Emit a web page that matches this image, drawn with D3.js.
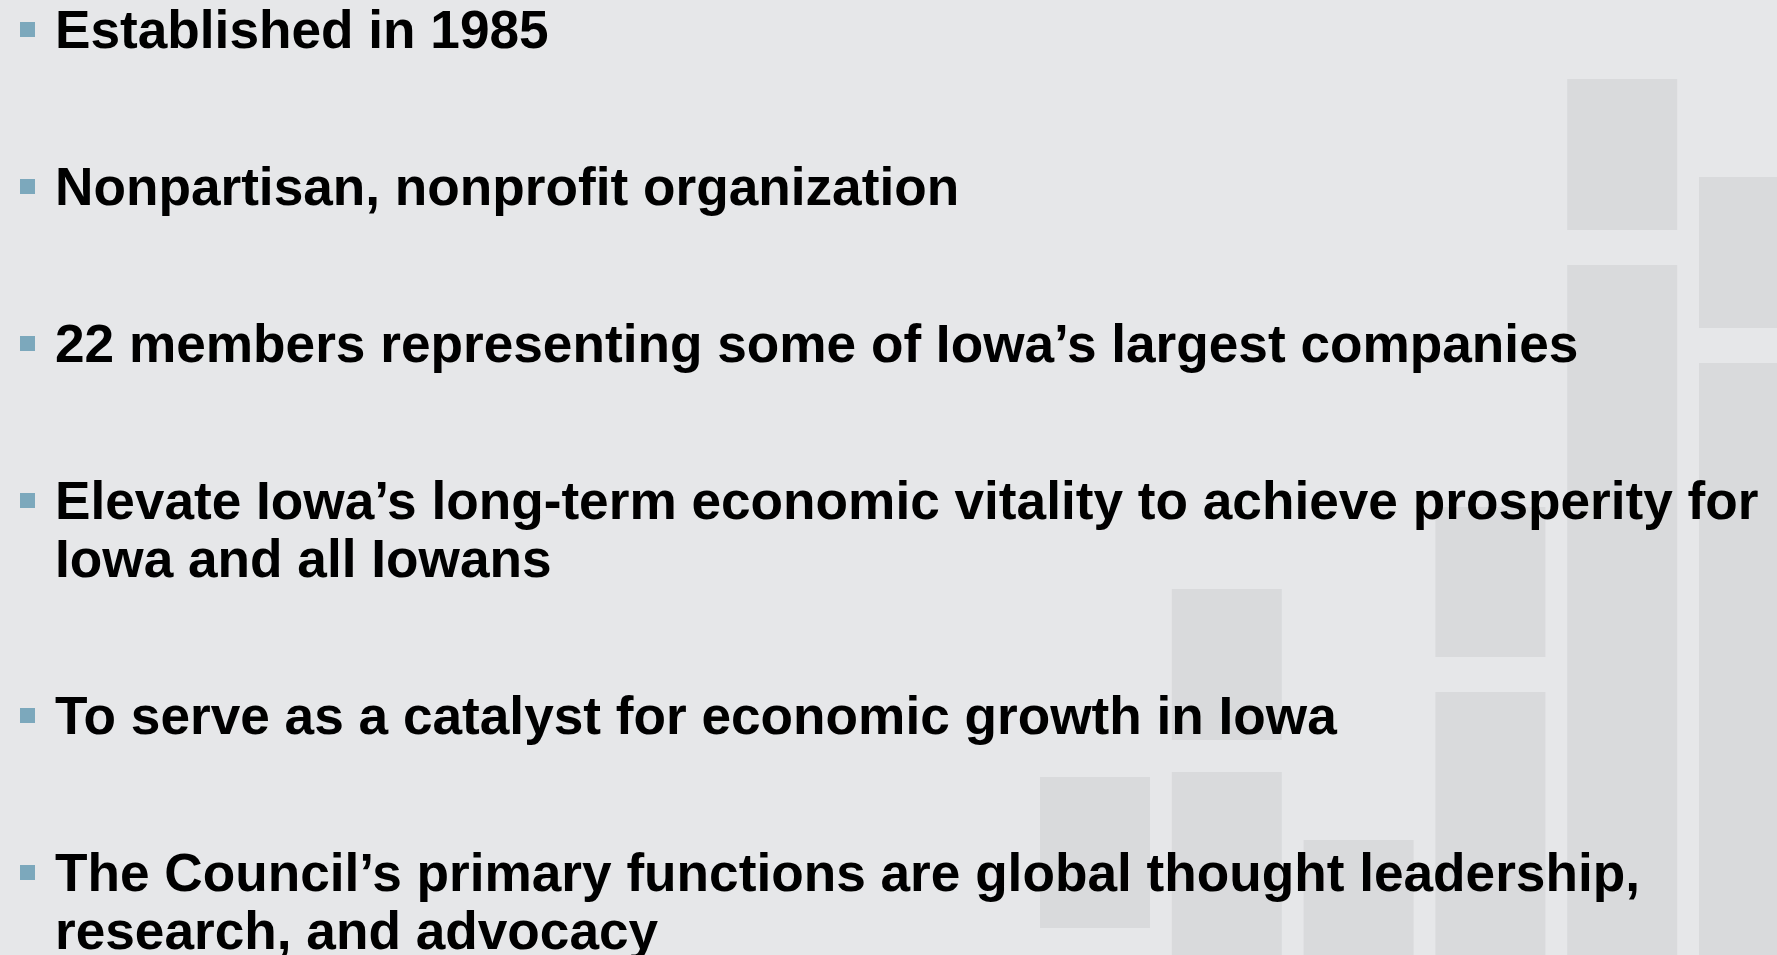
<!DOCTYPE html>
<html>
<head>
<meta charset="utf-8">
<script src="https://cdn.jsdelivr.net/npm/d3@7"></script>
<style>
  html, body { margin: 0; padding: 0; background: #e6e7e9; overflow: hidden; }
  svg { display: block; }
</style>
</head>
<body>
<svg id="chart" width="1777" height="955"></svg>
<script>
// ---- data ----
const bullets = [
  ["Established in 1985"],
  ["Nonpartisan, nonprofit organization"],
  ["22 members representing some of Iowa\u2019s largest companies"],
  ["Elevate Iowa\u2019s long-term economic vitality to achieve prosperity for", "Iowa and all Iowans"],
  ["To serve as a catalyst for economic growth in Iowa"],
  ["The Council\u2019s primary functions are global thought leadership,", "research, and advocacy"]
];
// decorative background columns (column index, block top, block bottom)
const blockCol    = [0,   1,   1,   2,   3,   3,   4,   4,   5,   5];
const blockTop    = [777, 589, 772, 840, 507, 692, 79,  265, 177, 363];
const blockBottom = [928, 740, 955, 955, 657, 955, 230, 955, 328, 955];

// ---- drawing ----
const W = 1777, H = 955;
const svg = d3.select("#chart");
svg.append("rect").attr("width", W).attr("height", H).attr("fill", "#e6e7e9");

const x = d3.scaleLinear().domain([0, 5]).range([1040, 1699]);
const y = d3.scaleLinear().domain([0, 955]).range([0, 955]);
const colW = 110;

svg.append("g").selectAll("rect")
  .data(blockCol.map((c, i) => ({c, t: blockTop[i], b: blockBottom[i]})))
  .join("rect")
  .attr("x", d => x(d.c))
  .attr("y", d => y(d.t))
  .attr("width", colW)
  .attr("height", d => y(d.b) - y(d.t))
  .attr("fill", "#d9dadc");

// text layout
const firstBaseline = 48, paraStep = 157, lineStep = 58;
let base = firstBaseline;
const items = bullets.map((lines, i) => {
  const it = {lines, base};
  base += (lines.length - 1) * lineStep + paraStep;
  return it;
});

const g = svg.append("g");
const item = g.selectAll("g.item").data(items).join("g").attr("class", "item");
item.append("rect")
  .attr("x", 20)
  .attr("y", d => d.base - 26)
  .attr("width", 15)
  .attr("height", 15)
  .attr("fill", "#7ca8bc");
item.append("text")
  .attr("font-family", "'Liberation Sans', Arial, sans-serif")
  .attr("font-weight", "bold")
  .attr("font-size", 53.2)
  .attr("fill", "#000")
  .selectAll("tspan")
  .data(d => d.lines.map((l, j) => ({l, yy: d.base + j * lineStep})))
  .join("tspan")
  .attr("x", 55)
  .attr("y", d => d.yy)
  .text(d => d.l);
</script>
</body>
</html>
